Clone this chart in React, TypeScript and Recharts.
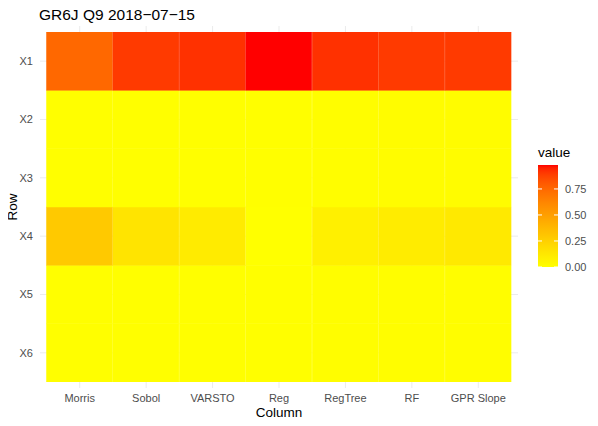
import { BarChart, Bar, XAxis, YAxis, CartesianGrid, Cell } from "recharts";

const columns = ["Morris", "Sobol", "VARSTO", "Reg", "RegTree", "RF", "GPR Slope"];
const rows = ["X1", "X2", "X3", "X4", "X5", "X6"];

// sensitivity values per row, one entry per column
const x1 = [0.75, 0.9, 0.92, 0.98, 0.92, 0.9, 0.9];
const x2 = [0.005, 0.008, 0.008, 0.005, 0.01, 0.015, 0.015];
const x3 = [0.005, 0.008, 0.008, 0.005, 0.01, 0.015, 0.015];
const x4 = [0.29, 0.145, 0.11, 0.0, 0.08, 0.105, 0.12];
const x5 = [0.008, 0.008, 0.008, 0.005, 0.01, 0.01, 0.01];
const x6 = [0.008, 0.008, 0.008, 0.005, 0.01, 0.01, 0.01];
const values: Record<string, number[]> = { X1: x1, X2: x2, X3: x3, X4: x4, X5: x5, X6: x6 };

const legendTicks = [0, 0.25, 0.5, 0.75];

const all = [...x1, ...x2, ...x3, ...x4, ...x5, ...x6];
const vMin = Math.min(...all);
const vMax = Math.max(...all);

// yellow -> red gradient interpolated in Lab, like ggplot's scale_fill_gradient
const lin = (c: number) => (c <= 0.04045 ? c / 12.92 : Math.pow((c + 0.055) / 1.055, 2.4));
const gam = (c: number) => (c <= 0.0031308 ? 12.92 * c : 1.055 * Math.pow(c, 1 / 2.4) - 0.055);
const Xn = 0.95047, Zn = 1.08883;

function toLab(rgb: number[]) {
  const [R, G, B] = rgb.map((c) => lin(c / 255));
  const X = 0.4124 * R + 0.3576 * G + 0.1805 * B;
  const Y = 0.2126 * R + 0.7152 * G + 0.0722 * B;
  const Z = 0.0193 * R + 0.1192 * G + 0.9505 * B;
  const f = (t: number) => (t > 0.008856 ? Math.cbrt(t) : 7.787 * t + 16 / 116);
  const fx = f(X / Xn), fy = f(Y), fz = f(Z / Zn);
  return [116 * fy - 16, 500 * (fx - fy), 200 * (fy - fz)];
}

function fromLab([L, a, b]: number[]) {
  const fy = (L + 16) / 116;
  const fx = fy + a / 500;
  const fz = fy - b / 200;
  const inv = (t: number) => (t * t * t > 0.008856 ? t * t * t : (t - 16 / 116) / 7.787);
  const X = Xn * inv(fx), Y = inv(fy), Z = Zn * inv(fz);
  const r = 3.2406 * X - 1.5372 * Y - 0.4986 * Z;
  const g = -0.9689 * X + 1.8758 * Y + 0.0415 * Z;
  const bb = 0.0557 * X - 0.204 * Y + 1.057 * Z;
  const to = (c: number) => Math.round(255 * gam(Math.min(1, Math.max(0, c))));
  return `rgb(${to(r)},${to(g)},${to(bb)})`;
}

const lowLab = toLab([255, 255, 0]);
const highLab = toLab([255, 0, 0]);

function fillOf(v: number) {
  const t = (v - vMin) / (vMax - vMin);
  return fromLab(lowLab.map((l, i) => l + (highLab[i] - l) * t));
}

const table = columns.map((c) => {
  const row: Record<string, string | number> = { col: c };
  rows.forEach((r) => (row[r] = 1));
  return row;
});

const font = "'Liberation Sans', Arial, sans-serif";
const tickStyle = { fill: "#4D4D4D", fontSize: 11, fontFamily: font };

// legend bar geometry
const barTop = 165;
const barBottom = 267;
const legY = (v: number) => barBottom - ((v - vMin) / (vMax - vMin)) * (barBottom - barTop);

export default function App() {
  const stops = Array.from({ length: 41 }, (_, i) => vMin + ((vMax - vMin) * i) / 40);
  return (
    <div style={{ position: "relative", width: 598, height: 426, margin: -8, background: "#fff" }}>
      <BarChart
        width={598}
        height={426}
        data={table}
        margin={{ top: 26, right: 80, bottom: 0, left: 0 }}
        barCategoryGap={0}
        barGap={0}
      >
        <CartesianGrid stroke="#EBEBEB" strokeWidth={1} syncWithTicks />
        <XAxis
          dataKey="col"
          height={38}
          axisLine={false}
          tickLine={false}
          tickSize={0}
          tickMargin={6}
          tick={tickStyle}
          padding={{ left: 6.5, right: 6.5 }}
          interval={0}
        />
        <YAxis
          type="number"
          width={40}
          domain={[0, rows.length]}
          ticks={rows.map((_, i) => i + 0.5)}
          tickFormatter={(v: number) => rows[rows.length - 1 - Math.floor(v)]}
          axisLine={false}
          tickLine={false}
          tickSize={0}
          tickMargin={7}
          tick={tickStyle}
          padding={{ top: 6, bottom: 6 }}
          allowDataOverflow
        />
        {[...rows].reverse().map((r) => (
          <Bar key={r} dataKey={r} stackId="s" isAnimationActive={false}>
            {columns.map((c, i) => (
              <Cell key={c} fill={fillOf(values[r][i])} stroke={fillOf(values[r][i])} strokeWidth={0.5} />
            ))}
          </Bar>
        ))}
      </BarChart>
      <svg
        width={598}
        height={426}
        style={{ position: "absolute", left: 0, top: 0, pointerEvents: "none" }}
        fontFamily={font}
      >
        <defs>
          <linearGradient id="leg" x1="0" y1="1" x2="0" y2="0">
            {stops.map((v, i) => (
              <stop key={i} offset={i / 40} stopColor={fillOf(v)} />
            ))}
          </linearGradient>
        </defs>
        <text x={39} y={20} fontSize={15.5} fill="#000">
          GR6J Q9 2018−07−15
        </text>
        <text x={279} y={417} fontSize={13.5} fill="#000" textAnchor="middle">
          Column
        </text>
        <text x={17} y={207} fontSize={13.5} fill="#000" textAnchor="middle" transform="rotate(-90 17 207)">
          Row
        </text>
        <text x={538} y={157} fontSize={13.5} fill="#000">
          value
        </text>
        <rect x={538} y={barTop} width={20} height={barBottom - barTop} fill="url(#leg)" />
        {legendTicks.map((t) => (
          <g key={t}>
            <line x1={538} x2={542} y1={legY(t)} y2={legY(t)} stroke="#fff" strokeWidth={1} />
            <line x1={554} x2={558} y1={legY(t)} y2={legY(t)} stroke="#fff" strokeWidth={1} />
            <text x={565} y={legY(t) + 4} fontSize={11} fill="#4D4D4D">
              {t.toFixed(2)}
            </text>
          </g>
        ))}
      </svg>
    </div>
  );
}
